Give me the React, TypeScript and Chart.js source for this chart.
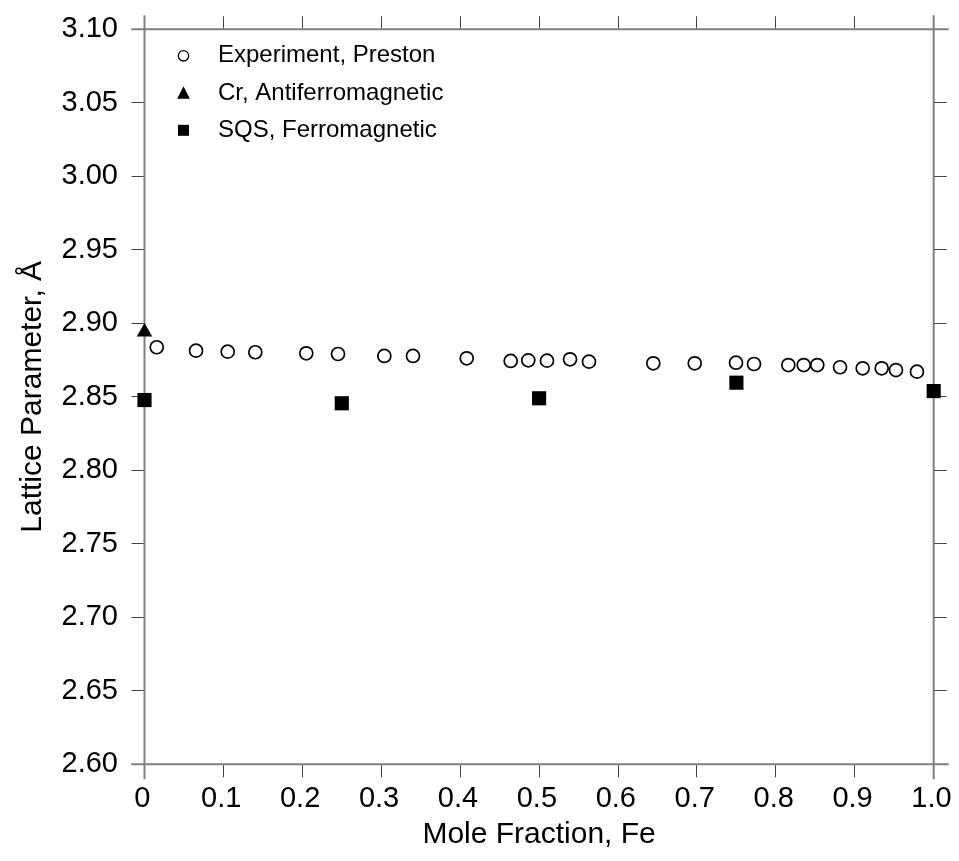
import { useEffect, useRef } from 'react';
import { Chart, registerables } from 'chart.js';

Chart.register(...registerables);

const FONT = '"Liberation Sans", Arial, Helvetica, sans-serif';

// ---- Data ----
const experimentX = [0.0155, 0.0653, 0.1054, 0.1404, 0.205, 0.2452, 0.3039, 0.3402, 0.4083, 0.464, 0.4863, 0.51, 0.5392, 0.5632, 0.6447, 0.6972, 0.7495, 0.7723, 0.8158, 0.8353, 0.8525, 0.8813, 0.91, 0.9341, 0.9522, 0.9788];
const experimentY = [2.8837, 2.8814, 2.8807, 2.8803, 2.8796, 2.8791, 2.8778, 2.8778, 2.8762, 2.8744, 2.8748, 2.8746, 2.8755, 2.8739, 2.8728, 2.8728, 2.8732, 2.8723, 2.8716, 2.8716, 2.8716, 2.8701, 2.8694, 2.8694, 2.8682, 2.8671];
const crX = [0];
const crY = [2.894];
const sqsX = [0, 0.25, 0.5, 0.75, 1.0];
const sqsY = [2.8478, 2.8456, 2.849, 2.8596, 2.8539];

const seriesLabels = ['Experiment, Preston', 'Cr, Antiferromagnetic', 'SQS, Ferromagnetic'];
const xTickLabels = ['0', '0.1', '0.2', '0.3', '0.4', '0.5', '0.6', '0.7', '0.8', '0.9', '1.0'];
const yTickLabels = ['2.60', '2.65', '2.70', '2.75', '2.80', '2.85', '2.90', '2.95', '3.00', '3.05', '3.10'];
const xTitle = 'Mole Fraction, Fe';
const yTitle = 'Lattice Parameter, Å';

const toPoints = (xs: number[], ys: number[]) => xs.map((x, i) => ({ x, y: ys[i] }));

const noPad = (s: any) => {
  s.paddingLeft = 0;
  s.paddingRight = 0;
  s.paddingTop = 0;
  s.paddingBottom = 0;
};

const framePlugin = {
  id: 'extendedFrame',
  beforeDatasetsDraw(chart: any) {
    const { ctx, chartArea: a } = chart;
    ctx.save();
    ctx.strokeStyle = '#808080';
    ctx.lineWidth = 2;
    ctx.beginPath();
    ctx.moveTo(a.left - 13, a.top); ctx.lineTo(a.right + 15, a.top);
    ctx.moveTo(a.left - 13, a.bottom); ctx.lineTo(a.right + 15, a.bottom);
    ctx.moveTo(a.left, a.top - 14); ctx.lineTo(a.left, a.bottom + 15);
    ctx.moveTo(a.right, a.top - 14); ctx.lineTo(a.right, a.bottom + 15);
    ctx.stroke();
    ctx.restore();
  },
};

const legendPlugin = {
  id: 'insideLegend',
  afterDraw(chart: any) {
    const { ctx, chartArea: a } = chart;
    const mx = a.left + 39;
    const tx = a.left + 73.5;
    const rows = [a.top + 26.5, a.top + 64, a.top + 101];
    ctx.save();
    ctx.fillStyle = '#000';
    ctx.strokeStyle = '#000';
    ctx.lineWidth = 1.3;
    ctx.beginPath();
    ctx.arc(mx, rows[0], 5.2, 0, Math.PI * 2);
    ctx.stroke();
    ctx.beginPath();
    ctx.moveTo(mx, rows[1] - 7);
    ctx.lineTo(mx + 6.3, rows[1] + 5.5);
    ctx.lineTo(mx - 6.3, rows[1] + 5.5);
    ctx.closePath();
    ctx.fill();
    ctx.fillRect(mx - 5.5, rows[2] - 5.5, 11, 11);
    ctx.font = `24px ${FONT}`;
    ctx.textBaseline = 'middle';
    ctx.textAlign = 'left';
    seriesLabels.forEach((t, i) => ctx.fillText(t, tx, rows[i]));
    ctx.restore();
  },
};

export default function App() {
  const ref = useRef<HTMLCanvasElement | null>(null);

  useEffect(() => {
    if (!ref.current) return;
    const gridOpts = {
      drawOnChartArea: false,
      drawTicks: true,
      tickLength: 13,
      color: '#444',
      lineWidth: 1,
    };
    const chart = new Chart(ref.current, {
      type: 'scatter',
      data: {
        datasets: [
          {
            label: seriesLabels[0],
            data: toPoints(experimentX, experimentY),
            pointStyle: 'circle',
            pointRadius: 6.5,
            pointBorderWidth: 1.7,
            borderColor: '#000',
            backgroundColor: 'rgba(255,255,255,0)',
            clip: false,
          },
          {
            label: seriesLabels[1],
            data: toPoints(crX, crY),
            pointStyle: 'triangle',
            pointRadius: 9,
            pointBorderWidth: 0,
            borderColor: '#000',
            backgroundColor: '#000',
            clip: false,
          },
          {
            label: seriesLabels[2],
            data: toPoints(sqsX, sqsY),
            pointStyle: 'rect',
            pointRadius: 10,
            pointBorderWidth: 0,
            borderColor: '#000',
            backgroundColor: '#000',
            clip: false,
          },
        ],
      },
      options: {
        animation: false,
        responsive: false,
        layout: { padding: 0 },
        plugins: {
          legend: { display: false },
          tooltip: { enabled: false },
        },
        scales: {
          x: {
            type: 'linear',
            position: 'bottom',
            min: 0,
            max: 1,
            grid: gridOpts,
            border: { display: false },
            ticks: {
              stepSize: 0.1,
              color: '#000',
              font: { family: FONT, size: 29 },
              padding: 4.5,
              labelOffset: -2.2,
              maxRotation: 0,
              autoSkip: false,
              callback: (v: any) => xTickLabels[Math.round(Number(v) * 10)] ?? '',
            },
            title: {
              display: true,
              text: xTitle,
              color: '#000',
              font: { family: FONT, size: 30 },
              padding: { top: 0, bottom: 0 },
            },
            afterFit: (s: any) => { s.height = 88.7; noPad(s); },
          },
          x2: {
            type: 'linear',
            position: 'top',
            min: 0,
            max: 1,
            grid: gridOpts,
            border: { display: false },
            ticks: { display: false, stepSize: 0.1, autoSkip: false },
            afterFit: (s: any) => { s.height = 21.3; noPad(s); },
          },
          y: {
            type: 'linear',
            position: 'left',
            min: 2.6,
            max: 3.1,
            grid: gridOpts,
            border: { display: false },
            ticks: {
              stepSize: 0.05,
              color: '#000',
              font: { family: FONT, size: 29 },
              padding: 13.5,
              autoSkip: false,
              callback: (v: any) => yTickLabels[Math.round((Number(v) - 2.6) / 0.05)] ?? '',
            },
            title: {
              display: true,
              text: yTitle,
              color: '#000',
              font: { family: FONT, size: 30 },
              padding: { top: 7, bottom: 0 },
            },
            afterFit: (s: any) => { s.width = 136.5; noPad(s); },
          },
          y2: {
            type: 'linear',
            position: 'right',
            min: 2.6,
            max: 3.1,
            grid: gridOpts,
            border: { display: false },
            ticks: { display: false, stepSize: 0.05, autoSkip: false },
            afterFit: (s: any) => { s.width = 25.3; noPad(s); },
          },
        },
      } as any,
      plugins: [framePlugin, legendPlugin],
    });
    return () => chart.destroy();
  }, []);

  return (
    <div style={{ width: 951, height: 845 }}>
      <canvas ref={ref} width={951} height={845} style={{ display: 'block' }} />
    </div>
  );
}
